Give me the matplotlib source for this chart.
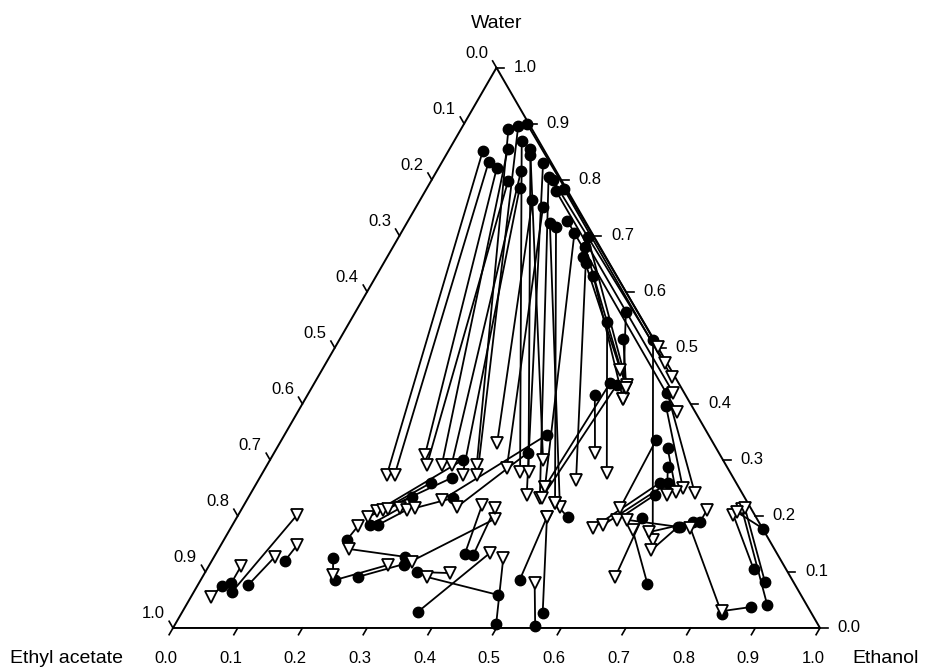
import numpy as np
import matplotlib.pyplot as plt

plt.rcParams['font.family'] = ['Liberation Sans', 'DejaVu Sans']

# tie lines: aqueous phase (filled circles) -> organic phase (open triangles)
# mass fractions of ethanol and water, ethyl acetate is the rest
aq_ethanol = [0.038, 0.050, 0.059, 0.078, 0.113,
              0.053, 0.072, 0.090, 0.119, 0.090, 0.130, 0.143, 0.073, 0.086,
              0.174, 0.196, 0.104, 0.125, 0.130, 0.157, 0.178, 0.221,
              0.097, 0.187, 0.212, 0.202, 0.246, 0.234, 0.268, 0.292, 0.297,
              0.303, 0.312, 0.335, 0.398, 0.418, 0.438, 0.485,
              0.457, 0.469, 0.444, 0.554, 0.564, 0.579, 0.604, 0.621, 0.623,
              0.636, 0.626, 0.627, 0.690, 0.709, 0.720, 0.694, 0.694,
              0.836, 0.875, 0.898, 0.845, 0.874, 0.824,
              0.185, 0.208, 0.240, 0.190, 0.295, 0.298, 0.297, 0.269, 0.252,
              0.2125, 0.225, 0.317, 0.301, 0.327, 0.385, 0.399, 0.364, 0.473,
              0.496, 0.493, 0.558, 0.558, 0.511, 0.392, 0.406]
aq_water = [0.075, 0.080, 0.064, 0.077, 0.120,
            0.852, 0.832, 0.821, 0.798, 0.855, 0.816, 0.786, 0.891, 0.895,
            0.763, 0.752, 0.870, 0.855, 0.845, 0.830, 0.805, 0.723,
            0.900, 0.800, 0.784, 0.780, 0.727, 0.716, 0.705, 0.698, 0.680,
            0.6625, 0.652, 0.629, 0.546, 0.564, 0.516, 0.514,
            0.4375, 0.434, 0.416, 0.420, 0.396, 0.336, 0.321, 0.2875, 0.259,
            0.259, 0.2375, 0.196, 0.180, 0.189, 0.189, 0.0786, 0.180,
            0.025, 0.0375, 0.041, 0.105, 0.082, 0.177,
            0.125, 0.0857, 0.091, 0.157, 0.127, 0.300, 0.268, 0.259, 0.234,
            0.184, 0.184, 0.232, 0.1125, 0.100, 0.132, 0.130, 0.0286, 0.059,
            0.007, 0.0857, 0.0268, 0.0036, 0.198, 0.3125, 0.345]

org_ethanol = [0.031, 0.050, 0.091, 0.094, 0.118,
               0.194, 0.206, 0.235, 0.247, 0.270, 0.285, 0.311, 0.324, 0.334,
               0.336, 0.373, 0.397, 0.410, 0.422, 0.428, 0.451, 0.490,
               0.499, 0.524, 0.547, 0.563, 0.586, 0.479, 0.449, 0.485, 0.486,
               0.461, 0.491, 0.491, 0.532, 0.491, 0.486, 0.663,
               0.449, 0.454, 0.496, 0.686, 0.663, 0.584, 0.656, 0.645, 0.560,
               0.573, 0.590, 0.638, 0.670, 0.650, 0.720, 0.623, 0.605,
               0.710, 0.833, 0.773, 0.765, 0.777, 0.768,
               0.200, 0.276, 0.310, 0.195, 0.2015, 0.211, 0.202, 0.219, 0.226,
               0.244, 0.256, 0.267, 0.400, 0.379, 0.368, 0.391, 0.423, 0.347,
               0.448, 0.479, 0.479, 0.519, 0.479, 0.331, 0.3015]
org_water = [0.055, 0.111, 0.202, 0.127, 0.148,
             0.273, 0.273, 0.309, 0.291, 0.291, 0.291, 0.273, 0.291, 0.273,
             0.330, 0.286, 0.279, 0.279, 0.300, 0.2375, 0.232, 0.216,
             0.502, 0.473, 0.448, 0.420, 0.386, 0.223, 0.252, 0.434, 0.429,
             0.461, 0.264, 0.409, 0.277, 0.409, 0.429, 0.157,
             0.252, 0.232, 0.3125, 0.241, 0.250, 0.214, 0.243, 0.2375, 0.179,
             0.184, 0.193, 0.091, 0.139, 0.171, 0.211, 0.175, 0.193,
             0.179, 0.030, 0.2125, 0.202, 0.214, 0.207,
             0.0946, 0.1125, 0.118, 0.182, 0.141, 0.209, 0.198, 0.211, 0.2125,
             0.214, 0.211, 0.214, 0.1946, 0.098, 0.2196, 0.214, 0.134, 0.091,
             0.125, 0.198, 0.198, 0.080, 0.223, 0.216, 0.2286]

ticks = np.round(np.arange(0, 1.01, 0.1), 1)
tick_labels = ['%.1f' % t for t in ticks]

H = np.sqrt(3) / 2


def to_xy(eth, wat):
    eth = np.asarray(eth, dtype=float)
    wat = np.asarray(wat, dtype=float)
    return eth + wat / 2, wat * H


fig = plt.figure(figsize=(9.33, 6.69), dpi=100)
ax = fig.add_axes([0, 0, 1, 1])
ax.set_xlim(-0.2674, 1.1747)
ax.set_ylim(-0.0634, 0.9706)
ax.axis('off')

# frame
ax.plot([0, 1, 0.5, 0], [0, 0, H, 0], color='black', lw=1.4, zorder=1)

# ticks and tick labels
L = 0.012
for t, lab in zip(ticks, tick_labels):
    # ethanol (bottom)
    ax.plot([t, t - 0.5 * L], [0, -H * L], color='black', lw=1.2)
    ax.text(t - 0.011, -0.047, lab, ha='center', va='center', fontsize=12)
    # water (right)
    x0, y0 = 1 - t / 2, t * H
    ax.plot([x0, x0 + L], [y0, y0], color='black', lw=1.2)
    ax.text(x0 + 0.027, y0, lab, ha='left', va='center', fontsize=12)
    # ethyl acetate (left)
    x0, y0 = (1 - t) / 2, (1 - t) * H
    ax.plot([x0, x0 - 0.5 * L], [y0, y0 + H * L], color='black', lw=1.2)
    ax.text(x0 - 0.013, y0 + 0.022, lab, ha='right', va='center', fontsize=12)

ax.text(0.5, 0.935, 'Water', ha='center', va='center', fontsize=14)
ax.text(-0.164, -0.047, 'Ethyl acetate', ha='center', va='center', fontsize=14)
ax.text(1.102, -0.047, 'Ethanol', ha='center', va='center', fontsize=14)

# tie lines
cx, cy = to_xy(aq_ethanol, aq_water)
tx, ty = to_xy(org_ethanol, org_water)
for x1, y1, x2, y2 in zip(cx, cy, tx, ty):
    ax.plot([x1, x2], [y1, y2], color='black', lw=1.3, zorder=2)

ax.plot(cx, cy, 'o', ms=7.5, color='black', zorder=3)
ax.plot(tx, ty, 'v', ms=8, mfc='white', mec='black', mew=1.3, zorder=4)

plt.savefig('out.png', dpi=100)
